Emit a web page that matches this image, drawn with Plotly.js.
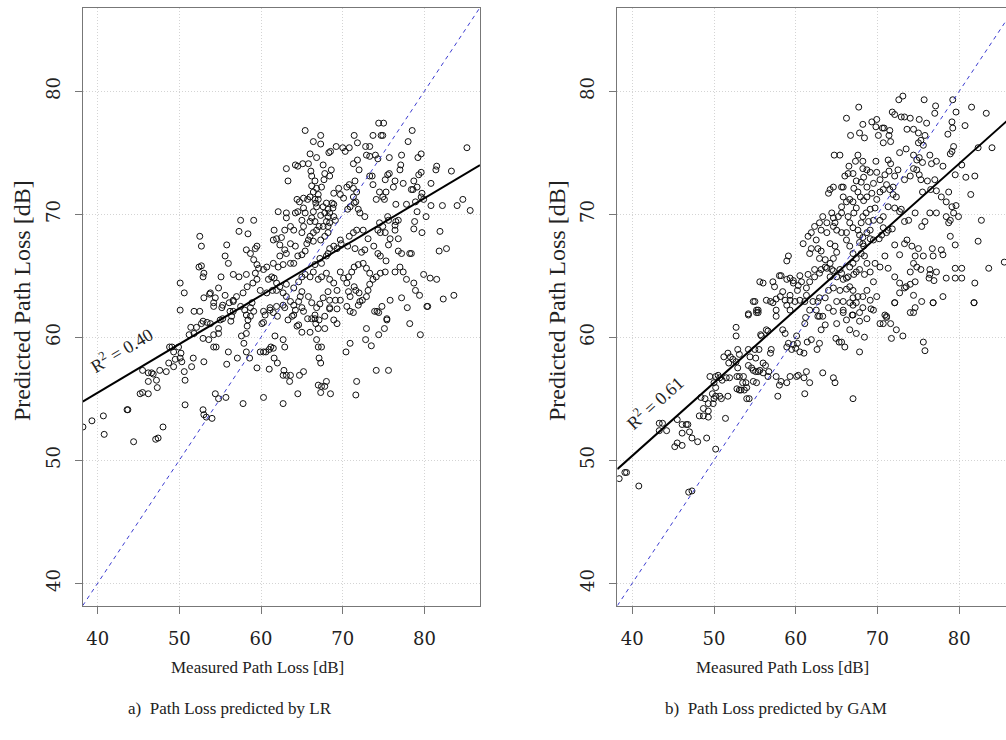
<!DOCTYPE html>
<html><head><meta charset="utf-8">
<script src="https://cdn.plot.ly/plotly-3.0.1.min.js"></script>
<style>html,body{margin:0;padding:0;overflow:hidden;background:#fff;width:1006px;height:740px}#chart{width:1020px;height:740px}</style>
</head><body><div id="chart"></div>
<script>
// a) Linear regression: measured vs predicted path loss [dB]
const lrMeasured = [65.4,74.4,75.0,74.7,74.9,78.5,66.4,67.3,67.3,71.4,
71.8,72.8,73.3,73.7,78.0,70.0,70.8,69.2,68.3,68.5,
66.8,66.0,70.3,71.3,71.8,72.0,72.9,73.3,74.0,74.3,
75.7,77.2,79.2,79.6,77.1,77.0,75.5,75.7,76.4,76.2,
75.2,75.3,74.9,75.1,74.5,74.1,73.7,73.3,73.6,71.5,
70.8,70.5,71.3,71.7,71.3,71.6,72.1,72.7,70.1,69.7,
69.5,68.9,68.9,68.7,68.8,68.4,68.2,69.1,70.9,70.6,
71.4,71.9,77.4,78.4,78.7,79.3,79.6,81.5,81.4,83.3,
85.2,80.8,79.7,79.1,78.6,79.6,79.9,77.8,76.5,78.9,
79.1,80.8,82.2,84.0,84.7,85.6,80.2,78.8,78.7,79.7,
81.9,81.8,82.7,76.8,76.5,76.4,76.4,76.8,75.5,75.6,
74.5,74.9,74.3,74.6,75.2,75.8,75.6,76.8,77.2,78.4,
75.3,74.3,74.6,73.8,73.1,72.7,72.3,71.5,72.5,71.3,
71.7,70.8,70.6,69.7,69.8,69.3,68.9,68.4,68.2,68.0,
67.2,67.4,66.6,67.3,67.8,68.2,67.6,68.2,68.0,68.4,
68.9,67.3,67.8,68.2,67.6,68.0,66.7,66.8,66.4,67.0,
66.6,66.0,66.4,67.0,65.7,65.2,64.7,64.5,64.2,65.2,
65.4,65.0,65.2,65.0,66.0,66.2,66.6,67.1,66.8,66.4,
66.0,65.8,66.4,65.6,65.4,65.0,64.5,64.2,63.6,64.0,
63.6,63.1,62.9,62.1,63.1,62.5,61.9,62.3,61.5,62.9,
63.1,62.3,63.6,64.0,62.7,62.1,61.5,60.7,60.3,61.3,
60.9,61.6,61.9,62.3,63.1,64.0,64.6,65.0,65.4,66.0,
66.4,67.0,67.4,68.0,68.4,68.9,69.3,69.7,70.1,70.7,
71.1,71.4,71.9,72.5,72.9,73.3,73.7,74.1,74.6,75.2,
73.3,73.1,72.4,72.0,71.4,71.6,70.5,70.7,70.9,68.2,
68.4,69.1,67.6,67.2,66.8,66.2,65.8,65.0,64.8,64.6,
64.0,63.6,63.1,62.7,61.9,61.4,60.7,59.9,59.5,59.3,
59.5,59.7,59.1,58.7,58.2,59.3,59.5,59.1,57.5,57.3,
58.4,55.8,55.6,56.0,56.6,57.3,58.2,59.0,58.3,57.8,
57.0,56.6,56.1,55.6,55.3,54.4,53.8,53.0,52.9,52.5,
52.7,52.7,52.4,53.0,55.1,54.8,56.6,57.5,58.0,58.7,
60.3,61.1,61.9,62.9,64.0,65.2,66.6,67.8,68.4,69.7,
70.5,71.3,72.1,72.9,74.2,74.8,75.4,75.8,77.2,77.9,
78.9,79.4,79.9,77.8,78.7,80.7,82.3,83.6,80.3,77.0,
76.4,77.4,78.2,81.5,50.1,50.6,53.7,54.2,63.1,64.2,
64.5,65.1,65.8,66.1,66.2,63.3,66.6,66.2,66.8,67.4,
67.7,67.8,68.4,68.6,67.6,64.4,61.6,
50.1,51.8,52.5,51.4,52.1,52.9,52.7,53.4,53.8,51.8,
51.2,52.9,53.6,54.2,54.8,54.2,54.5,54.8,55.0,55.3,
54.2,55.2,56.2,56.4,56.3,49.9,50.2,50.1,50.3,50.6,
50.7,48.8,49.1,49.3,49.5,49.3,48.7,48.4,47.6,51.7,
51.5,53.0,50.7,52.9,53.0,53.3,54.0,54.4,54.8,55.7,
56.0,55.8,57.1,57.6,57.9,58.2,58.3,58.4,58.2,58.7,
59.1,58.2,58.6,59.5,60.1,60.3,60.5,61.1,61.5,62.0,
59.9,60.3,60.6,61.0,61.0,61.2,61.5,61.6,62.0,60.3,
57.8,61.7,62.7,63.3,63.8,64.2,64.4,64.6,65.0,65.0,
62.7,62.9,62.8,63.1,63.5,63.6,62.7,64.7,65.2,64.5,
62.7,65.7,66.2,66.6,66.7,67.1,66.0,67.0,67.8,67.0,
67.4,66.8,67.1,67.3,67.0,67.4,68.0,67.8,67.3,68.5,
68.9,69.3,69.3,68.4,70.9,70.9,70.4,71.7,71.6,72.9,
72.8,73.5,73.9,74.4,74.4,74.1,75.6,75.1,75.4,78.2,
79.5,80.4,38.2,39.3,40.7,40.8,43.6,43.7,44.4,45.2,
45.5,46.2,45.5,46.2,46.6,46.8,46.2,47.2,47.3,47.1,
47.4,48.0,71.9,56.6,58.9];
const lrPredicted = [76.8,77.4,77.4,76.4,76.4,76.8,75.9,76.4,75.7,76.4,
75.8,75.5,75.5,76.4,75.9,75.4,75.4,75.5,75.0,75.1,
74.6,74.9,75.1,74.1,74.4,73.6,74.8,74.7,74.8,74.5,
74.6,74.8,74.6,74.9,74.0,73.6,73.2,73.3,72.7,72.2,
72.8,71.8,71.4,71.2,71.8,71.2,72.4,73.1,73.1,72.7,
72.4,72.2,72.1,71.8,71.4,71.0,70.1,69.8,71.3,71.6,
72.1,71.7,70.8,70.9,70.5,70.1,69.8,69.5,70.6,70.4,
70.9,70.4,72.5,72.0,72.7,73.2,73.4,73.9,73.6,73.5,
75.4,72.5,71.7,72.2,72.0,71.4,71.2,70.8,70.8,71.0,
70.2,70.7,70.7,70.7,71.2,70.3,69.8,69.4,68.8,68.5,
68.6,67.0,67.2,69.5,69.4,69.1,68.7,68.0,69.8,69.5,
69.3,69.0,68.7,68.5,68.5,68.0,67.5,67.0,66.8,66.8,
66.2,66.8,66.6,67.4,68.0,67.1,66.9,67.2,68.7,68.5,
68.7,68.2,67.4,67.9,67.6,67.2,67.4,67.2,66.8,66.6,
66.4,66.0,65.9,67.9,68.2,68.5,69.0,69.0,69.4,69.3,
69.8,69.9,70.1,70.4,70.6,70.9,70.9,70.6,70.2,71.2,
71.2,71.4,71.8,71.6,71.2,71.3,71.0,70.2,70.1,70.5,
70.1,69.5,69.0,68.5,69.4,69.7,69.4,69.0,68.7,68.5,
68.2,67.9,67.8,67.6,67.0,66.7,66.6,67.4,67.6,68.7,
69.0,69.7,68.7,70.2,70.1,68.1,68.0,67.5,67.9,67.1,
66.8,66.6,66.0,66.0,65.9,65.7,66.0,65.7,65.5,64.9,
64.7,64.8,64.4,64.1,64.3,64.0,64.5,64.9,65.1,64.9,
65.3,64.7,64.9,65.2,64.7,64.4,63.8,65.3,64.8,64.9,
65.3,65.7,65.9,66.0,65.6,65.2,64.7,64.9,65.2,65.3,
64.3,63.8,63.0,63.6,64.1,63.8,64.4,63.7,63.3,63.7,
63.0,63.0,63.2,62.7,62.4,62.8,63.3,63.7,63.3,62.9,
62.6,62.9,63.3,63.6,63.8,63.8,63.6,63.8,64.7,65.2,
65.9,65.6,66.3,66.8,67.1,67.2,67.4,69.5,69.5,68.6,
68.4,67.5,66.6,66.0,65.1,64.9,65.1,64.4,64.1,63.6,
63.3,63.0,62.8,63.4,62.6,63.2,63.6,63.2,64.9,68.2,
67.4,65.8,65.7,65.2,64.9,64.0,62.1,62.5,62.2,62.4,
62.1,62.2,62.5,62.4,61.8,62.1,61.8,61.7,62.4,63.0,
62.5,62.0,62.9,63.3,62.1,62.5,61.5,63.0,63.2,62.4,
63.8,63.4,65.1,64.7,64.4,64.8,63.1,63.4,62.5,65.7,
65.3,65.3,66.8,64.7,64.4,63.6,63.5,62.8,73.7,74.0,
73.9,74.1,74.1,73.5,73.1,72.7,72.7,72.3,72.1,72.2,
72.8,73.3,73.1,73.6,74.0,71.2,68.7,
62.2,62.1,62.1,60.8,60.8,61.3,61.1,61.2,61.1,60.3,
60.2,59.9,59.8,60.2,60.3,59.2,59.2,60.7,61.4,61.5,
62.5,62.4,62.1,61.7,61.3,59.2,58.7,58.3,58.0,57.2,
56.5,59.2,59.2,58.8,58.2,57.6,57.9,57.2,57.3,58.3,
57.6,58.0,54.5,54.1,53.7,53.5,53.4,55.4,55.0,55.1,
58.8,57.8,58.3,60.1,59.5,60.3,60.9,61.4,61.8,61.7,
62.1,58.8,58.3,57.5,61.1,61.2,61.8,62.4,62.0,61.7,
58.8,58.8,58.8,59.0,57.4,59.2,59.1,58.3,57.9,55.1,
54.6,60.1,62.6,61.4,61.7,62.2,60.9,61.0,60.4,62.4,
59.8,59.2,57.3,56.9,56.4,56.9,56.9,56.9,57.2,55.4,
54.6,61.5,61.5,61.5,61.1,61.4,60.4,60.7,60.7,59.2,
59.2,59.8,58.3,57.9,56.1,56.0,56.4,56.0,55.5,55.4,
61.4,61.1,62.3,62.3,62.1,59.5,58.8,56.4,55.3,60.7,
59.8,59.3,62.1,62.0,60.2,57.3,57.3,60.7,61.4,61.1,
60.2,62.5,52.7,53.2,53.6,52.1,54.1,54.1,51.5,55.4,
55.5,55.4,57.3,57.1,57.1,57.0,56.4,56.5,55.9,51.7,
51.8,52.7,62.6,62.9,62.8];

// b) GAM: measured vs predicted path loss [dB]
const gamMeasured = [73.1,72.6,75.7,67.7,66.2,66.7,67.8,68.2,68.4,69.3,
69.9,69.8,70.1,70.6,70.8,71.5,71.4,70.7,71.6,71.8,
72.1,72.9,73.3,74.0,73.6,74.4,75.0,75.1,76.0,77.1,
77.0,79.2,79.6,79.1,79.2,80.7,81.5,83.3,78.6,78.9,
79.3,79.5,80.8,75.0,75.3,75.6,75.8,73.5,72.7,74.4,
74.8,75.1,75.5,76.4,76.6,77.2,78.0,79.1,80.3,82.3,
84.0,64.7,65.4,67.6,68.2,68.2,68.7,67.3,66.5,66.4,
66.0,65.8,65.6,64.6,64.2,64.0,69.5,69.8,69.1,69.9,
70.3,70.9,71.3,71.4,71.6,72.5,72.1,71.9,71.1,70.7,
70.3,71.5,71.9,72.3,73.3,74.0,74.4,74.8,75.1,75.3,
75.5,76.1,76.5,77.0,77.2,77.8,78.7,78.4,79.1,79.6,
79.9,78.4,77.2,76.4,75.8,75.4,74.6,73.8,73.3,72.9,
72.7,72.1,71.3,70.7,70.3,69.5,69.1,68.7,68.2,67.8,
68.3,69.5,70.5,71.3,71.8,70.7,70.2,71.1,73.6,73.3,
74.2,75.0,74.6,75.6,76.7,76.8,77.8,78.0,78.9,79.5,
78.7,78.9,79.3,81.4,81.9,82.7,82.3,83.6,85.5,72.1,
72.7,74.4,74.8,74.0,75.3,76.4,77.2,76.4,76.3,76.9,
78.4,79.5,80.3,79.5,80.3,78.0,76.8,75.4,74.4,74.0,
73.3,72.7,72.1,71.3,70.3,70.9,69.7,69.1,68.4,69.5,
68.7,69.1,68.2,67.6,67.0,66.6,66.2,65.6,65.0,64.6,
63.8,62.9,62.3,61.7,61.3,60.7,60.3,59.7,59.3,58.9,
58.2,57.4,58.1,58.7,59.3,59.9,60.5,61.1,61.3,62.1,
62.9,63.6,64.0,64.6,65.4,66.2,67.0,65.0,65.8,66.6,
67.4,74.4,72.1,70.9,69.5,69.9,72.7,73.5,74.6,81.9,
81.8,60.9,61.5,61.9,62.3,62.9,63.3,63.8,64.4,64.6,
64.8,65.2,65.6,65.6,66.2,65.8,66.6,67.0,67.4,67.1,
66.4,66.6,67.0,67.6,67.8,66.2,65.6,65.0,64.6,63.8,
63.1,62.5,61.9,61.7,62.7,63.1,64.2,64.8,65.0,64.6,
64.2,63.6,62.9,63.6,64.4,65.4,66.6,67.0,67.4,68.0,
68.4,68.7,67.8,67.4,67.1,66.4,65.8,64.2,63.1,62.3,
61.5,60.5,59.7,59.1,58.9,58.0,57.2,56.9,57.6,56.0,
55.6,55.0,55.2,54.2,55.4,56.4,58.4,59.3,60.2,62.7,
64.6,65.8,67.0,67.8,68.7,71.1,66.2,66.6,67.0,68.2,69.1,
67.0,67.4,67.1,67.6,67.9,68.3,68.7,69.1,68.6,68.2,
68.0,68.9,69.7,69.9,69.3,68.7,68.0,68.3,
38.4,39.1,39.3,40.8,46.9,47.3,43.3,43.7,43.3,44.2,
45.2,45.5,46.1,45.5,46.1,46.6,46.8,46.1,47.0,47.3,
48.0,49.1,50.2,48.7,49.3,49.3,48.7,49.3,48.4,48.9,
49.8,50.2,50.0,50.7,50.9,50.2,50.0,50.2,50.7,50.5,
51.0,51.5,51.9,51.7,51.4,51.2,51.7,52.0,52.3,51.8,
52.7,52.9,53.1,52.7,52.7,52.9,52.8,53.1,53.6,53.5,
52.8,53.1,53.3,53.7,54.0,54.0,54.3,53.9,54.2,54.6,
54.8,55.1,55.4,54.8,55.2,55.6,56.0,56.3,56.0,55.5,
55.1,55.0,54.2,54.4,55.7,55.8,56.4,56.6,57.0,56.9,
56.7,56.6,57.6,58.0,57.8,58.2,58.9,59.3,58.9,59.1,
59.7,59.5,60.0,60.1,60.2,60.5,60.1,60.3,61.0,61.3,
61.7,61.1,61.0,61.4,61.9,62.9,62.6,63.1,63.3,64.6,
64.8,64.9,65.3,65.6,66.0,67.0,67.8,68.4,70.7,71.1,
71.6,72.3,71.7,73.1,75.6,75.8,74.6,54.2,54.8,55.2,
55.4,57.2,57.6,57.6,58.4,58.7,58.9,59.3,61.1,61.2,
61.7,62.5,62.7,62.9,63.3,63.6,64.0,65.0,65.8,66.2,
66.6,66.9,67.4,67.0,67.8,68.2,69.2,70.3,72.1,74.0,
76.8,81.8,49.5,49.9,48.2];
const gamPredicted = [79.6,79.3,79.3,78.7,77.8,76.4,76.6,77.3,76.2,77.5,
77.7,77.1,76.4,77.0,77.0,76.8,76.4,75.8,75.9,78.3,
78.1,77.9,77.9,77.8,76.9,76.9,76.6,77.7,77.4,78.8,
78.2,79.3,78.3,77.5,77.0,77.2,78.7,78.2,76.5,74.9,
75.5,73.2,73.0,75.8,76.0,75.6,76.4,75.3,75.0,74.8,
74.4,74.6,74.2,74.8,74.1,74.3,73.9,75.1,74.0,75.4,
75.4,74.8,74.8,74.8,74.3,73.7,73.6,74.3,73.9,73.3,
73.1,72.2,72.2,72.2,72.0,71.7,72.5,74.3,73.4,73.4,
72.8,73.2,74.4,73.5,74.1,73.6,73.1,72.2,72.4,72.0,
71.8,72.0,71.6,71.4,72.8,73.1,73.7,73.6,73.2,72.8,
71.8,72.7,72.0,72.8,71.9,71.4,71.8,71.0,70.6,70.7,
69.8,69.8,70.1,70.1,69.4,69.0,70.1,69.5,69.4,70.4,
70.2,70.5,70.6,69.8,69.5,69.5,68.7,68.5,68.1,67.7,
67.4,67.9,68.3,68.7,68.8,68.9,68.0,68.5,67.9,67.6,
67.4,67.2,66.6,66.6,67.2,66.6,67.1,66.7,68.2,67.5,
69.3,69.5,70.1,71.6,73.1,69.5,67.8,65.6,66.1,67.5,
66.7,66.0,65.7,65.3,65.5,65.5,65.3,65.1,64.8,64.6,
64.8,65.6,65.6,64.8,64.8,63.3,62.8,62.9,63.4,64.3,
64.0,64.4,64.9,65.6,65.7,66.6,66.0,65.3,65.1,64.5,
63.8,63.0,63.3,63.3,63.8,64.1,64.8,65.2,64.9,65.4,
65.6,65.2,64.9,64.5,64.0,64.5,64.2,64.4,64.8,64.7,
65.0,64.1,63.3,63.0,63.0,62.9,63.0,62.9,63.4,62.9,
63.2,63.2,63.8,64.0,63.8,63.9,63.2,62.9,62.9,62.8,
62.8,62.0,62.8,61.8,62.2,63.3,63.6,64.1,64.5,64.4,
62.8,67.6,68.2,68.5,69.0,69.3,69.8,69.3,70.1,69.7,
69.3,69.8,70.1,70.6,71.0,71.4,71.2,71.0,70.5,70.1,
69.8,69.3,68.9,68.7,68.3,68.5,68.5,68.7,69.0,68.5,
68.7,67.9,67.2,66.8,67.2,67.0,67.6,67.4,66.9,66.4,
66.0,66.3,66.4,65.7,65.5,65.5,65.7,66.0,66.4,66.8,
66.6,66.0,65.5,65.3,65.1,64.9,64.7,64.9,65.5,65.5,
65.1,65.0,64.6,66.6,66.2,65.0,64.5,62.9,63.1,64.4,
64.5,62.9,62.0,61.9,62.2,63.0,63.7,63.4,63.8,62.9,
62.1,62.0,61.8,62.0,61.5,61.7,67.9,67.4,66.8,67.6,68.0,
73.3,72.7,72.1,71.8,71.4,71.1,71.4,70.4,70.1,69.8,
69.3,69.4,70.5,71.2,71.7,72.2,72.6,73.0,
48.5,49.0,49.0,47.9,47.4,47.5,53.0,53.0,52.4,52.4,
51.1,51.4,51.2,53.3,52.9,52.9,52.9,52.2,52.3,51.8,
51.5,51.8,50.9,53.6,53.5,54.0,54.2,54.6,55.1,55.0,
55.4,55.2,55.0,55.2,55.0,55.9,56.3,56.8,56.7,56.9,
56.5,56.7,56.7,55.2,53.4,58.4,58.7,58.4,58.2,57.9,
58.0,59.0,58.6,60.8,60.1,57.5,56.8,56.8,56.8,56.3,
55.8,55.7,55.7,55.7,55.9,55.0,55.0,56.3,57.7,57.5,
57.3,57.2,57.2,56.4,56.3,57.3,57.1,57.7,57.9,59.0,
58.3,59.0,59.0,58.4,60.2,60.1,60.6,60.5,59.0,58.7,
57.2,56.8,56.8,56.1,55.2,56.4,56.3,56.8,59.2,59.5,
59.4,59.0,59.1,60.1,59.5,58.8,56.8,56.9,56.7,57.2,
56.3,55.4,58.7,59.6,59.8,59.5,59.0,60.6,57.1,56.7,
56.3,59.9,59.6,59.6,59.2,55.0,58.8,60.0,61.1,61.6,
61.1,60.6,59.9,60.1,59.6,58.9,62.4,61.8,62.9,62.2,
62.0,62.8,62.2,61.7,60.6,60.3,62.6,62.2,61.1,61.6,
62.2,62.2,61.7,61.7,61.7,61.0,62.4,61.1,62.2,61.4,
60.6,61.8,60.3,62.6,61.3,62.4,62.3,61.1,62.8,62.0,
62.8,62.8,56.8,54.6,53.6];

// fitted lines (end points of each regression line) and the 1:1 reference
const axisRange = [38.17, 86.8];
const tickValues = [40, 50, 60, 70, 80];
const lrFitX = [38.17, 86.8],  lrFitY = [54.76, 73.98];
const gamFitX = [38.17, 86.8], gamFitY = [49.27, 78.16];
const identityX = [38.17, 86.8], identityY = [38.17, 86.8];
const r2Labels = ['R<sup>2</sup> = 0.40', 'R<sup>2</sup> = 0.61'];
const captions = ['a)  Path Loss predicted by LR', 'b)  Path Loss predicted by GAM'];

const W = 1020, H = 740;
const px = v => v / W, py = v => 1 - v / H;

function scatter(x, y, xa, ya) {
  return {x, y, xaxis: xa, yaxis: ya, type: 'scatter', mode: 'markers', hoverinfo: 'skip',
    marker: {symbol: 'circle-open', size: 6, color: '#111', line: {width: 1, color: '#111'}}};
}
function line(x, y, xa, ya, color, width, dash) {
  return {x, y, xaxis: xa, yaxis: ya, type: 'scatter', mode: 'lines', hoverinfo: 'skip',
    line: {color, width, dash}};
}

const traces = [
  scatter(lrMeasured, lrPredicted, 'x', 'y'),
  line(identityX, identityY, 'x', 'y', '#3b3bd0', 1, '4px,4px'),
  line(lrFitX, lrFitY, 'x', 'y', '#000', 2, 'solid'),
  scatter(gamMeasured, gamPredicted, 'x2', 'y2'),
  line(identityX, identityY, 'x2', 'y2', '#3b3bd0', 1, '4px,4px'),
  line(gamFitX, gamFitY, 'x2', 'y2', '#000', 2, 'solid')
];

const tickFont = {family: 'DejaVu Serif', size: 18, color: '#222'};
const base = {range: axisRange, autorange: false, tickmode: 'array', tickvals: tickValues,
  ticks: 'outside', ticklen: 7, tickwidth: 1, tickcolor: '#777',
  showline: true, linecolor: '#777', linewidth: 1, mirror: true,
  showgrid: true, gridcolor: '#d4d4d4', griddash: '1px,2px', gridwidth: 1,
  zeroline: false, fixedrange: true, tickfont: tickFont};
const yDom = [py(605.7), py(7.5)];

const layout = {
  width: W, height: H, margin: {l: 0, r: 0, t: 0, b: 0},
  paper_bgcolor: '#fff', plot_bgcolor: '#fff', showlegend: false,
  xaxis: Object.assign({}, base, {domain: [px(82.7), px(480)], anchor: 'y', ticklabelstandoff: 10}),
  yaxis: Object.assign({}, base, {domain: yDom, anchor: 'x', tickangle: -90, ticklabelstandoff: 8}),
  xaxis2: Object.assign({}, base, {domain: [px(617.3), px(1014.9)], anchor: 'y2', ticklabelstandoff: 10}),
  yaxis2: Object.assign({}, base, {domain: yDom, anchor: 'x2', tickangle: -90, ticklabelstandoff: 8}),
  annotations: [
    {text: 'Predicted Path Loss [dB]', xref: 'paper', yref: 'paper', x: px(22), y: py(301), textangle: -90,
     showarrow: false, xanchor: 'center', yanchor: 'middle', font: {family: 'Liberation Serif', size: 24, color: '#222'}},
    {text: 'Predicted Path Loss [dB]', xref: 'paper', yref: 'paper', x: px(557), y: py(301), textangle: -90,
     showarrow: false, xanchor: 'center', yanchor: 'middle', font: {family: 'Liberation Serif', size: 24, color: '#222'}},
    {text: 'Measured Path Loss [dB]', xref: 'paper', yref: 'paper', x: px(257), y: py(667),
     showarrow: false, xanchor: 'center', yanchor: 'middle', font: {family: 'Liberation Serif', size: 17, color: '#222'}},
    {text: 'Measured Path Loss [dB]', xref: 'paper', yref: 'paper', x: px(782), y: py(667),
     showarrow: false, xanchor: 'center', yanchor: 'middle', font: {family: 'Liberation Serif', size: 17, color: '#222'}},
    {text: captions[0], xref: 'paper', yref: 'paper', x: px(230), y: py(708),
     showarrow: false, xanchor: 'center', yanchor: 'middle', font: {family: 'Liberation Serif', size: 17, color: '#222'}},
    {text: captions[1], xref: 'paper', yref: 'paper', x: px(776), y: py(708),
     showarrow: false, xanchor: 'center', yanchor: 'middle', font: {family: 'Liberation Serif', size: 17, color: '#222'}},
    {text: r2Labels[0], xref: 'x', yref: 'y', x: 42.97, y: 58.97, textangle: -31,
     showarrow: false, xanchor: 'center', yanchor: 'middle', font: {family: 'Liberation Serif', size: 18, color: '#222'}},
    {text: r2Labels[1], xref: 'x2', yref: 'y2', x: 42.73, y: 54.7, textangle: -42,
     showarrow: false, xanchor: 'center', yanchor: 'middle', font: {family: 'Liberation Serif', size: 18, color: '#222'}}
  ]
};

Plotly.newPlot('chart', traces, layout, {staticPlot: true, displayModeBar: false, responsive: false});
</script></body></html>
